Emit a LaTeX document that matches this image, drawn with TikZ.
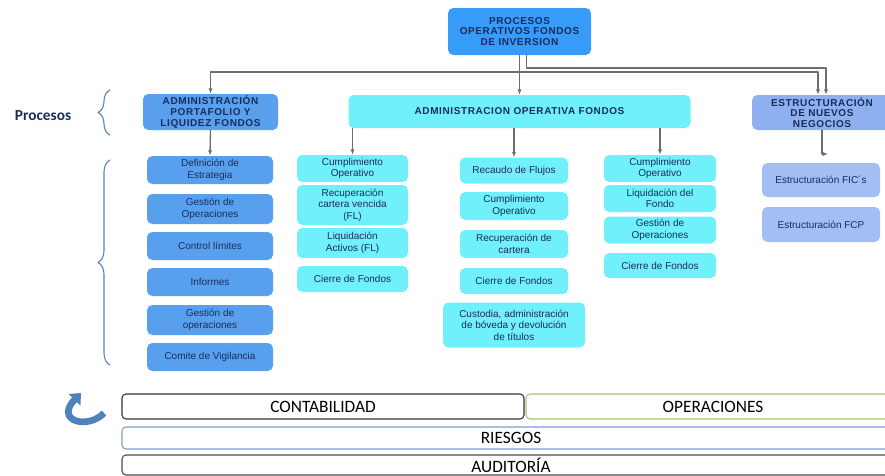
\documentclass[tikz,border=0pt]{standalone}
\usepackage{fontspec}
\setmainfont{Liberation Sans}
\newfontfamily\headfont[LetterSpace=6]{Liberation Sans}
\newfontfamily\barfont{Carlito}
\usetikzlibrary{arrows.meta,decorations.pathreplacing}
\definecolor{navy}{RGB}{25,45,90}
\definecolor{topblue}{RGB}{55,155,250}
\definecolor{midblue}{RGB}{88,160,238}
\definecolor{aqua}{RGB}{112,240,250}
\definecolor{lilac}{RGB}{143,176,240}
\definecolor{lilacpale}{RGB}{163,190,243}
\definecolor{wire}{RGB}{110,110,110}
\definecolor{bracecol}{RGB}{79,129,189}
\definecolor{riskline}{RGB}{126,158,206}
\definecolor{opsline}{RGB}{164,200,110}

\begin{document}
\begin{tikzpicture}[
  x=.75pt,y=-.75pt,
  line cap=round,line join=round,
  sz/.style 2 args={minimum width=#1*.75pt,minimum height=#2*.75pt},
  box/.style={rounded corners=4pt,align=center,inner sep=1pt,text=navy,
    font=\fontsize{7.5}{8.6}\selectfont},
  head/.style={box,font=\headfont\bfseries\fontsize{7.5}{8}\selectfont},
  bar/.style={rounded corners=3pt,fill=white,line width=.8pt,text=black,
    inner sep=0pt,font=\barfont\fontsize{13}{14}\selectfont},
  wire/.style={draw=wire,line width=1pt},
  link/.style={wire,-{Latex[length=4pt,width=3.2pt]}},
  curly/.style={draw=bracecol,line width=.8pt,decorate,
    decoration={brace,amplitude=9pt}}
]
\useasboundingbox (0,0) rectangle (885,475);
\clip (0,0) rectangle (885,475);

% top of the tree
\node[head,fill=topblue,sz={143}{47}] (top) at (519.5,31.5)
  {PROCESOS\\OPERATIVOS FONDOS\\DE INVERSION};

% main areas
\node[head,fill=midblue,sz={135}{36}] (port) at (210.5,112)
  {ADMINISTRACIÓN\\PORTAFOLIO Y\\LIQUIDEZ FONDOS};
\node[head,fill=aqua,sz={342}{33}] (oper) at (519.5,111.5)
  {ADMINISTRACION OPERATIVA FONDOS};
\node[head,fill=lilac,sz={140}{35}] (estr) at (822,112.5)
  {ESTRUCTURACIÓN\\DE NUEVOS\\NEGOCIOS};

% portfolio column
\foreach \n/\y/\h/\t in {
 1/170/28/{Definición de\\Estrategia},
 2/209/30/{Gestión de\\Operaciones},
 3/246/28/{Control límites},
 4/282/28/{Informes},
 5/320/30/{Gestión de\\operaciones},
 6/357/28/{Comite de Vigilancia}}
  \node[box,fill=midblue,sz={126}{\h}] (l\n) at (210,\y) {\t};

% operative columns
\foreach \n/\y/\h/\t in {
 1/168.5/27/{Cumplimiento\\Operativo},
 2/205/40/{Recuperación\\cartera vencida\\(FL)},
 3/243/30/{Liquidación\\Activos (FL)},
 4/279/26/{Cierre de Fondos}}
  \node[box,fill=aqua,sz={111}{\h}] (o\n) at (352.5,\y) {\t};
\foreach \n/\y/\h/\t in {
 1/170.5/26/{Recaudo de Flujos},
 2/206/28/{Cumplimiento\\Operativo},
 3/244/28/{Recuperación de\\cartera},
 4/281/26/{Cierre de Fondos}}
  \node[box,fill=aqua,sz={108}{\h}] (r\n) at (514,\y) {\t};
\node[box,fill=aqua,sz={142}{45}] (r5) at (514,325)
  {Custodia, administración\\de bóveda y devolución\\de títulos};
\foreach \n/\y/\h/\t in {
 1/168.5/27/{Cumplimiento\\Operativo},
 2/198.5/27/{Liquidación del\\Fondo},
 3/230/27/{Gestión de\\Operaciones},
 4/265.5/25/{Cierre de Fondos}}
  \node[box,fill=aqua,sz={112}{\h}] (f\n) at (660,\y) {\t};

% new business column
\node[box,fill=lilacpale,sz={118}{34}] (e1) at (821,180) {Estructuración FIC´s};
\node[box,fill=lilacpale,sz={118}{35}] (e2) at (821,224.5) {Estructuración FCP};

% tree connectors
\coordinate (busA) at (519.5,72);
\coordinate (busB) at (826,68);
\coordinate (ebend) at (828,154);
\draw[wire] (top.south) -- (busA);
\draw[link] (busA) -| (port.north);
\draw[link] (busA) -- (oper.north);
\draw[link] (busA) -| ([xshift=-3pt]estr.north);
\draw[link] ([xshift=5pt]top.south) |- (busB) -- ([xshift=3pt]estr.north);
\draw[link] (port.south) -- (l1.north);
\foreach \c in {o1,r1,f1}
  \draw[link] (oper.south -| \c.north) -- (\c.north);
\draw[link] (estr.south) |- (ebend);

% side label and braces
\node[font=\barfont\bfseries\fontsize{11.5}{12}\selectfont,text=navy] (proc) at (43,116) {Procesos};
\draw[curly] (110,135) -- (110,90);
\draw[curly] (110,365) -- (110,160);

% support areas
\draw[draw=bracecol,line width=5pt,line cap=butt,-{Triangle[length=7pt,width=12pt]}]
  (104,413) .. controls (88,430) and (54,421) .. (81,393);
\node[bar,draw=black!80,sz={402}{25}] (cont) at (323,406.5) {CONTABILIDAD};
\node[bar,draw=opsline,sz={374}{25}] (ops) at (713,406.5) {OPERACIONES};
\node[bar,draw=riskline,sz={778}{22}] (risk) at (511,438) {RIESGOS};
\node[bar,draw=black!70,sz={778}{20}] (audit) at (511,465) {AUDITORÍA};

\end{tikzpicture}
\end{document}
